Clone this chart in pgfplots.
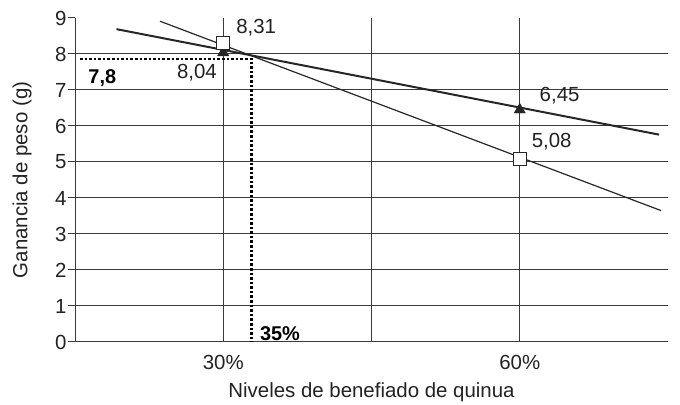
\documentclass[border=0pt]{standalone}
\usepackage{pgfplots}
\pgfplotsset{compat=1.18}
\usepackage{fontspec}
\setmainfont{Liberation Sans}
\definecolor{txt}{HTML}{222222}
\definecolor{grd}{HTML}{3A3A3A}
\begin{document}
\begin{tikzpicture}
\begin{axis}[
  name=ax,
  scale only axis,
  width=593bp, height=324bp,
  xmin=15, xmax=75, ymin=0, ymax=9,
  axis x line*=bottom, axis y line*=left,
  axis line style={grd, line width=1pt, -},
  xtick={30,60}, xticklabels={30\%,60\%},
  xmajorgrids,
  major x tick style={draw=none},
  extra x ticks={45}, extra x tick labels={},
  extra x tick style={grid=major, major tick length=8bp, tick align=outside, tick style={grd, line width=1pt}},
  ytick={0,...,9},
  major y tick style={grd, line width=1pt},
  tick align=outside, major tick length=7bp,
  ytick pos=left,
  grid style={grd, line width=1pt},
  /pgf/number format/assume math mode=true,
  tick label style={font=\fontsize{20.5}{22}\selectfont, text=txt},
  yticklabel style={xshift=2bp},
  xticklabel style={yshift=-3bp},
  xlabel={Niveles de benefiado de quinua},
  ylabel={Ganancia de peso (g)},
  label style={font=\fontsize{20.5}{22}\selectfont, text=txt},
  xlabel style={at={(axis description cs:0.5,0)}, anchor=center, yshift=-50bp},
  ylabel style={at={(axis description cs:0,0.5)}, anchor=center, yshift=53bp},
  clip=false,
]
% horizontal gridlines 1..8
\pgfplotsinvokeforeach{1,...,8}{
  \addplot[grd, line width=1pt, forget plot] coordinates {(15,#1) (75,#1)};
}
% dotted guide lines
\addplot[black, line width=2.6pt, dotted, forget plot] coordinates {(15.5,7.86) (32.85,7.86) (32.85,0)};
% trend lines
\addplot[black!85, line width=2pt] coordinates {(19.2,8.69) (74.1,5.76)};
\addplot[black!85, line width=1.2pt] coordinates {(23.6,8.91) (74.3,3.65)};
% markers
\addplot[only marks, mark=triangle*, mark size=6.5bp, mark options={fill=black!85, draw=black!85}] coordinates {(30,8.04) (60,6.45)};
\addplot[only marks, mark=square*, mark size=6.7bp, mark options={fill=white, draw=black!85, line width=1pt}] coordinates {(30,8.31) (60,5.08)};
% data labels
\node[anchor=west, text=txt, font=\fontsize{20.5}{22}\selectfont, inner sep=0pt] at (axis cs:31.3,8.72) {8,31};
\node[anchor=east, text=txt, font=\fontsize{20.5}{22}\selectfont, inner sep=0pt] at (axis cs:29.37,7.47) {8,04};
\node[anchor=west, text=txt, font=\fontsize{20.5}{22}\selectfont, inner sep=0pt] at (axis cs:62.0,6.83) {6,45};
\node[anchor=west, text=txt, font=\fontsize{20.5}{22}\selectfont, inner sep=0pt] at (axis cs:61.2,5.57) {5,08};
\node[anchor=west, text=black, font=\bfseries\fontsize{20}{22}\selectfont, inner sep=0pt] at (axis cs:16.34,7.33) {7,8};
\node[anchor=west, text=black, font=\bfseries\fontsize{20}{22}\selectfont, inner sep=0pt] at (axis cs:33.7,0.22) {35\%};
\end{axis}
\path ([xshift=-75bp,yshift=-62bp]ax.south west) rectangle ([xshift=12bp,yshift=18bp]ax.north east);
\end{tikzpicture}
\end{document}
